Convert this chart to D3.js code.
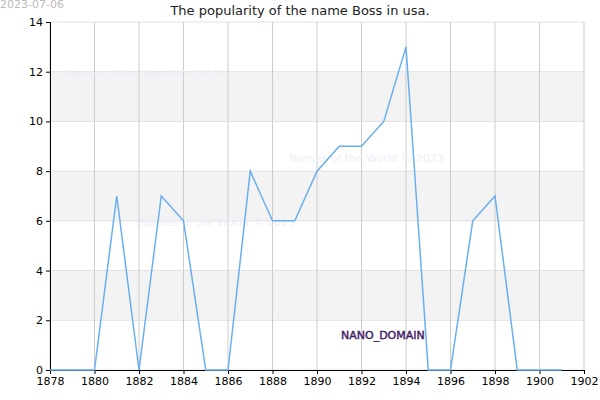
<!DOCTYPE html>
<html><head><meta charset="utf-8">
<script src="https://cdn.jsdelivr.net/npm/d3@7"></script>
<style>body{margin:0;background:#fff}svg{font-family:"DejaVu Sans",sans-serif}</style>
</head><body><svg id="c" width="600" height="400"></svg>
<script>
const years=[1878,1879,1880,1881,1882,1883,1884,1885,1886,1887,1888,1889,1890,1891,1892,1893,1894,1895,1896,1897,1898,1899,1900,1901];
const counts=[0,0,0,7,0,7,6,0,0,8,6,6,8,9,9,10,13,0,0,6,7,0,0,0];
const xTicks=[1878,1880,1882,1884,1886,1888,1890,1892,1894,1896,1898,1900,1902];
const yTicks=[0,2,4,6,8,10,12,14];
const bands=[[2,4],[6,8],[10,12]];
const svg=d3.select("#c");
const x=d3.scaleLinear().domain([1878,1902]).range([50,584]);
const y=d3.scaleLinear().domain([0,14]).range([370,22]);
svg.selectAll(".band").data(bands).join("rect").attr("x",50).attr("width",534)
 .attr("y",d=>y(d[1])).attr("height",d=>y(d[0])-y(d[1])).attr("fill","#f3f3f3");
svg.selectAll(".hg").data(yTicks).join("line").attr("x1",50).attr("x2",584)
 .attr("y1",d=>y(d)).attr("y2",d=>y(d)).attr("stroke","#e2e2e2");
svg.selectAll(".vg").data(xTicks).join("line").attr("y1",22).attr("y2",370)
 .attr("x1",d=>x(d)).attr("x2",d=>x(d)).attr("stroke","#cccccc");
const wm=[[65,78],[289,162],[140,226]];
svg.selectAll(".wm").data(wm).join("text").attr("x",d=>d[0]).attr("y",d=>d[1])
 .text("Names of the World © 2023").attr("font-size",11).attr("fill","#eeeefc");
const ax=svg.append("g").attr("transform","translate(0,370)")
 .call(d3.axisBottom(x).tickValues(xTicks).tickFormat(d3.format("d")).tickSize(4));
ax.select(".domain").attr("stroke","#000");
ax.selectAll("text").attr("font-size",11).attr("fill","#000").attr("font-family","DejaVu Sans");
const ay=svg.append("g").attr("transform","translate(50,0)")
 .call(d3.axisLeft(y).tickValues(yTicks).tickSize(4));
ay.select(".domain").attr("stroke","#000");
ay.selectAll("text").attr("font-size",11).attr("fill","#000").attr("font-family","DejaVu Sans");
svg.append("path").datum(years.map((d,i)=>[d,counts[i]]))
 .attr("d",d3.line().x(d=>x(d[0])).y(d=>y(d[1]))).attr("fill","none")
 .attr("stroke","#6aaff0").attr("stroke-width",1.5);
svg.append("text").attr("x",300).attr("y",15).attr("text-anchor","middle")
 .attr("font-size",13).attr("fill","#222").text("The popularity of the name Boss in usa.");
svg.append("text").attr("x",0).attr("y",8).attr("font-size",11).attr("fill","#bbb").text("2023-07-06");
svg.append("text").attr("x",341).attr("y",339).attr("font-size",11).attr("fill","#5a2d82")
 .attr("stroke","#2a0a4a").attr("stroke-width",0.4).text("NANO_DOMAIN");
</script></body></html>
